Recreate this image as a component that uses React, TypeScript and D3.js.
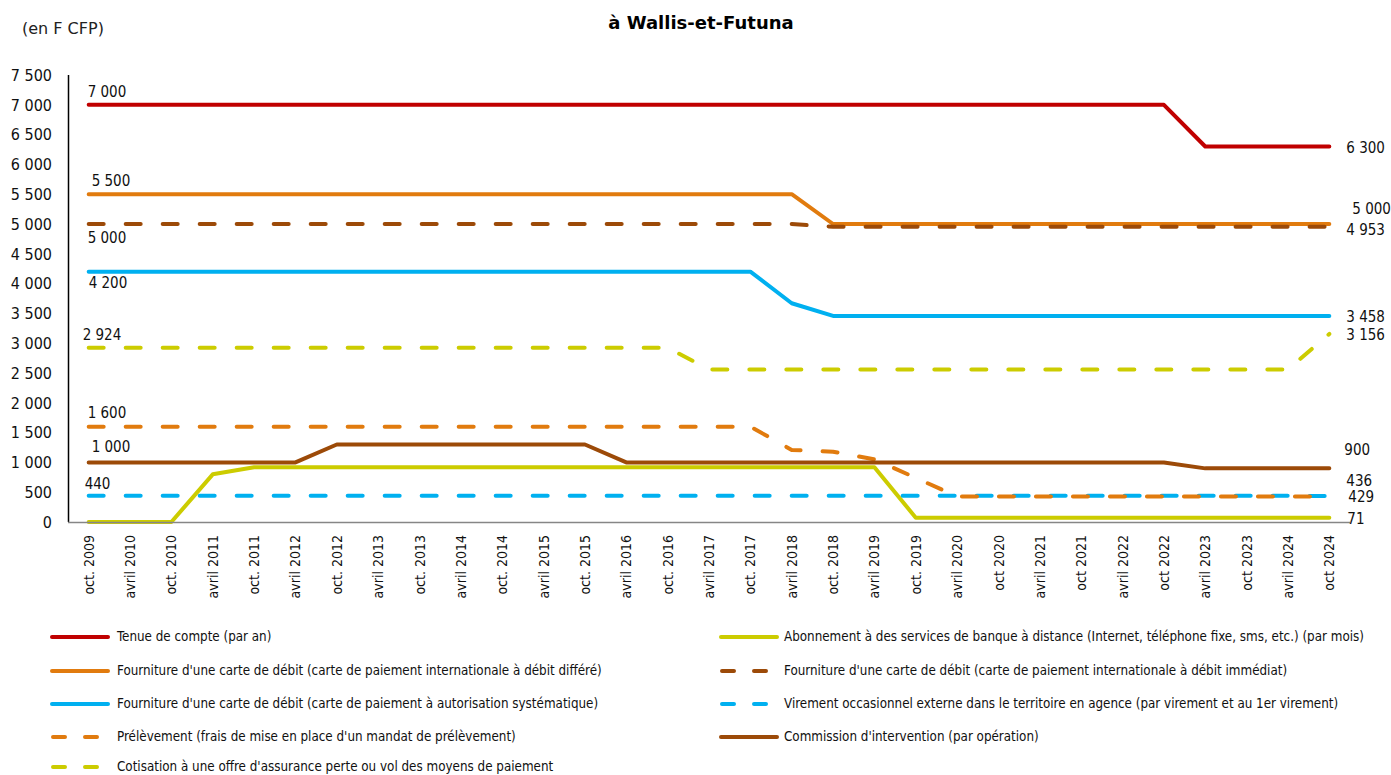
import React, { useEffect, useRef } from 'react';
import * as d3 from 'd3';

// semestres, oct. 2009 -> oct 2024
const categories = [
  'oct. 2009', 'avril 2010', 'oct. 2010', 'avril 2011', 'oct. 2011', 'avril 2012', 'oct. 2012',
  'avril 2013', 'oct. 2013', 'avril 2014', 'oct. 2014', 'avril 2015', 'oct. 2015', 'avril 2016',
  'oct. 2016', 'avril 2017', 'oct. 2017', 'avril 2018', 'oct. 2018', 'avril 2019', 'oct. 2019',
  'avril 2020', 'oct 2020', 'avril 2021', 'oct 2021', 'avril 2022', 'oct 2022', 'avril 2023',
  'oct 2023', 'avril 2024', 'oct 2024',
];

const tenueCompte = [
  7000, 7000, 7000, 7000, 7000, 7000, 7000, 7000, 7000, 7000, 7000, 7000, 7000, 7000, 7000, 7000,
  7000, 7000, 7000, 7000, 7000, 7000, 7000, 7000, 7000, 7000, 7000, 6300, 6300, 6300, 6300,
];
const abonnement = [
  0, 0, 0, 800, 920, 920, 920, 920, 920, 920, 920, 920, 920, 920, 920, 920,
  920, 920, 920, 920, 71, 71, 71, 71, 71, 71, 71, 71, 71, 71, 71,
];
const carteDiffere = [
  5500, 5500, 5500, 5500, 5500, 5500, 5500, 5500, 5500, 5500, 5500, 5500, 5500, 5500, 5500, 5500,
  5500, 5500, 5000, 5000, 5000, 5000, 5000, 5000, 5000, 5000, 5000, 5000, 5000, 5000, 5000,
];
const carteImmediat = [
  5000, 5000, 5000, 5000, 5000, 5000, 5000, 5000, 5000, 5000, 5000, 5000, 5000, 5000, 5000, 5000,
  5000, 5000, 4953, 4953, 4953, 4953, 4953, 4953, 4953, 4953, 4953, 4953, 4953, 4953, 4953,
];
const carteAutorisation = [
  4200, 4200, 4200, 4200, 4200, 4200, 4200, 4200, 4200, 4200, 4200, 4200, 4200, 4200, 4200, 4200,
  4200, 3670, 3458, 3458, 3458, 3458, 3458, 3458, 3458, 3458, 3458, 3458, 3458, 3458, 3458,
];
const virement = [
  440, 440, 440, 440, 440, 440, 440, 440, 440, 440, 440, 440, 440, 440, 440, 440,
  440, 440, 440, 440, 440, 440, 440, 440, 440, 440, 440, 440, 440, 440, 436,
];
const prelevement = [
  1600, 1600, 1600, 1600, 1600, 1600, 1600, 1600, 1600, 1600, 1600, 1600, 1600, 1600, 1600, 1600,
  1600, 1210, 1180, 1050, 740, 429, 429, 429, 429, 429, 429, 429, 429, 429, 429,
];
const commission = [
  1000, 1000, 1000, 1000, 1000, 1000, 1300, 1300, 1300, 1300, 1300, 1300, 1300, 1000, 1000, 1000,
  1000, 1000, 1000, 1000, 1000, 1000, 1000, 1000, 1000, 1000, 1000, 900, 900, 900, 900,
];
const assurance = [
  2924, 2924, 2924, 2924, 2924, 2924, 2924, 2924, 2924, 2924, 2924, 2924, 2924, 2924, 2924, 2560,
  2560, 2560, 2560, 2560, 2560, 2560, 2560, 2560, 2560, 2560, 2560, 2560, 2560, 2560, 3156,
];

const yTicks = [0, 500, 1000, 1500, 2000, 2500, 3000, 3500, 4000, 4500, 5000, 5500, 6000, 6500, 7000, 7500];

const FONT = "'DejaVu Sans Condensed', 'DejaVu Sans', sans-serif";
const FONT_WIDE = "'DejaVu Sans', sans-serif";

// legend order = row by row, left column then right column
const series = [
  { name: 'Tenue de compte (par an)', values: tenueCompte, color: '#C00000', dashed: false,
    start: { dx: -1, dy: -8 }, end: { dx: 17, dy: 6 }, col: 0, row: 0 },
  { name: 'Abonnement à des services de banque à distance (Internet, téléphone fixe, sms, etc.) (par mois)',
    values: abonnement, color: '#CCCC00', dashed: false,
    start: null, end: { dx: 18, dy: 6 }, col: 1, row: 0 },
  { name: "Fourniture d'une carte de débit (carte de paiement internationale à débit différé)",
    values: carteDiffere, color: '#E17B0E', dashed: false,
    start: { dx: 3, dy: -8 }, end: { dx: 23, dy: -10 }, col: 0, row: 1 },
  { name: "Fourniture d'une carte de débit (carte de paiement internationale à débit immédiat)",
    values: carteImmediat, color: '#9C4A08', dashed: true,
    start: { dx: -1, dy: 19 }, end: { dx: 17, dy: 8 }, col: 1, row: 1 },
  { name: "Fourniture d'une carte de débit (carte de paiement à autorisation systématique)",
    values: carteAutorisation, color: '#00B0F0', dashed: false,
    start: { dx: 0, dy: 16 }, end: { dx: 17, dy: 6 }, col: 0, row: 2 },
  { name: 'Virement occasionnel externe dans le territoire en agence (par virement et au 1er virement)',
    values: virement, color: '#00B0F0', dashed: true,
    start: { dx: -4, dy: -7 }, end: { dx: 17, dy: -10 }, col: 1, row: 2 },
  { name: "Prélèvement (frais de mise en place d'un mandat de prélèvement)",
    values: prelevement, color: '#E17B0E', dashed: true,
    start: { dx: -1, dy: -9 }, end: { dx: 19, dy: 6 }, col: 0, row: 3 },
  { name: "Commission d'intervention (par opération)",
    values: commission, color: '#9C4A08', dashed: false,
    start: { dx: 3, dy: -10 }, end: { dx: 15, dy: -13 }, col: 1, row: 3 },
  { name: "Cotisation à une offre d'assurance perte ou vol des moyens de paiement",
    values: assurance, color: '#CCCC00', dashed: true,
    start: { dx: -6, dy: -8 }, end: { dx: 17, dy: 6 }, col: 0, row: 4 },
];

const fmt = d3.formatLocale({ decimal: ',', thousands: '\u00a0', grouping: [3], currency: ['', ''] }).format(',d');

export default function App() {
  const ref = useRef<SVGSVGElement | null>(null);

  useEffect(() => {
    const svg = d3.select(ref.current);
    svg.selectAll('*').remove();

    const x = d3.scalePoint<string>().domain(categories).range([68, 1350]).padding(0.5);
    const y = d3.scaleLinear().domain([0, 7500]).range([522, 75]);

    svg.append('text')
      .attr('x', 701).attr('y', 29)
      .attr('text-anchor', 'middle')
      .attr('font-family', FONT_WIDE).attr('font-weight', 'bold').attr('font-size', 18)
      .text('à Wallis-et-Futuna');

    svg.append('text')
      .attr('x', 22).attr('y', 34)
      .attr('font-family', FONT_WIDE).attr('font-size', 16).attr('fill', '#222')
      .text('(en F CFP)');

    // y tick labels (no gridlines)
    svg.append('g').selectAll('text').data(yTicks).enter().append('text')
      .attr('x', 52).attr('y', d => y(d))
      .attr('dy', '0.36em')
      .attr('text-anchor', 'end')
      .attr('font-family', FONT).attr('font-size', 16).attr('fill', '#111')
      .text(d => fmt(d));

    // x tick labels, rotated
    svg.append('g').selectAll('text').data(categories).enter().append('text')
      .attr('transform', d => `translate(${x(d)},535) rotate(-90)`)
      .attr('dy', '0.36em')
      .attr('text-anchor', 'end')
      .attr('font-family', FONT).attr('font-size', 14).attr('fill', '#111')
      .text(d => d);

    const line = d3.line<number>()
      .x((_, i) => x(categories[i]) as number)
      .y(d => y(d));

    const g = svg.append('g');
    series.forEach(s => {
      g.append('path')
        .attr('d', line(s.values))
        .attr('fill', 'none')
        .attr('stroke', s.color)
        .attr('stroke-width', 4)
        .attr('stroke-linecap', 'round')
        .attr('stroke-linejoin', 'round')
        .attr('stroke-dasharray', s.dashed ? '15,22' : null);
    });

    // axes lines
    svg.append('line')
      .attr('x1', 68.5).attr('x2', 68.5).attr('y1', 75).attr('y2', 522)
      .attr('stroke', '#000').attr('stroke-width', 1.5);
    svg.append('line')
      .attr('x1', 68).attr('x2', 1350).attr('y1', 522.5).attr('y2', 522.5)
      .attr('stroke', '#868686').attr('stroke-width', 1.5);

    // value labels at start and end
    const labels = svg.append('g')
      .attr('font-family', FONT).attr('font-size', 15).attr('fill', '#111');
    const last = categories.length - 1;
    series.forEach(s => {
      if (s.start) {
        labels.append('text')
          .attr('x', (x(categories[0]) as number) + s.start.dx)
          .attr('y', y(s.values[0]) + s.start.dy)
          .text(fmt(s.values[0]));
      }
      labels.append('text')
        .attr('x', (x(categories[last]) as number) + s.end.dx)
        .attr('y', y(s.values[last]) + s.end.dy)
        .text(fmt(s.values[last]));
    });

    // legend
    const rowY = [637, 671, 704, 737, 767];
    const legend = svg.append('g');
    series.forEach(s => {
      const x0 = s.col === 0 ? 51 : 720;
      const yy = rowY[s.row];
      if (s.dashed) {
        legend.append('line')
          .attr('x1', x0 + 2).attr('x2', x0 + 46).attr('y1', yy).attr('y2', yy)
          .attr('stroke', s.color).attr('stroke-width', 4).attr('stroke-linecap', 'round')
          .attr('stroke-dasharray', '12,20');
      } else {
        legend.append('line')
          .attr('x1', x0 + 1).attr('x2', x0 + 57).attr('y1', yy).attr('y2', yy)
          .attr('stroke', s.color).attr('stroke-width', 4).attr('stroke-linecap', 'round');
      }
      legend.append('text')
        .attr('x', s.col === 0 ? 117 : 784)
        .attr('y', yy).attr('dy', '0.32em')
        .attr('font-family', FONT).attr('font-size', 13.3).attr('fill', '#111')
        .text(s.name);
    });
  }, []);

  return (
    <svg ref={ref} width={1391} height={775}
      style={{ position: 'absolute', left: 0, top: 0, display: 'block', background: '#fff' }} />
  );
}
